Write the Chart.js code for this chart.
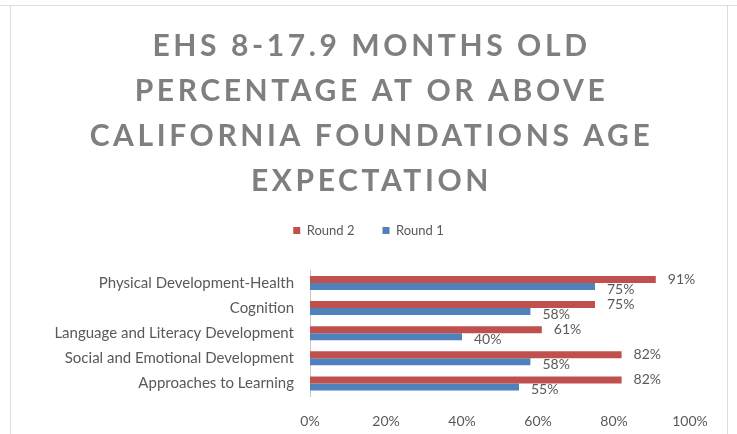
<!DOCTYPE html>
<html>
<head>
<meta charset="utf-8">
<script src="https://cdn.jsdelivr.net/npm/chart.js@4/dist/chart.umd.min.js"></script>
<style>
  html, body { margin: 0; padding: 0; background: #fff; }
  #wrap { width: 737px; height: 434px; }
</style>
</head>
<body>
<div id="wrap"><canvas id="ehs_chart"></canvas></div>
<script>
// data
const categories = [
    'Physical Development-Health',
    'Cognition',
    'Language and Literacy Development',
    'Social and Emotional Development',
    'Approaches to Learning'
];
const round2 = [91, 75, 61, 82, 82];
const round1 = [75, 58, 40, 58, 55];
const xTicks = [0, 20, 40, 60, 80, 100];
const titleLines = [
    'EHS 8-17.9 MONTHS OLD',
    'PERCENTAGE AT OR ABOVE',
    'CALIFORNIA FOUNDATIONS AGE',
    'EXPECTATION'
];

const RED = '#C0504D';
const BLUE = '#4F81BD';
const TEXT = '#595959';

// light frame around the chart like the screenshot
const framePlugin = {
    id: 'frame',
    beforeDraw(chart) {
        const ctx = chart.ctx;
        ctx.save();
        ctx.strokeStyle = '#dedede';
        ctx.lineWidth = 1;
        ctx.beginPath();
        ctx.moveTo(0, 5.5); ctx.lineTo(737, 5.5);
        ctx.moveTo(10.5, 5.5); ctx.lineTo(10.5, 434);
        ctx.moveTo(727.5, 5.5); ctx.lineTo(727.5, 434);
        ctx.stroke();
        ctx.restore();

        // spaced out title letters
        const t = chart.titleBlock;
        if (t && !t._spaced) {
            const draw = t.draw;
            t.draw = function() {
                const c = this.ctx;
                c.save();
                c.letterSpacing = '3.6px';
                c.translate(3, 0);
                draw.call(this);
                c.restore();
            };
            t._spaced = true;
        }
    }
};

// value labels at the bar ends
const valueLabels = {
    id: 'valueLabels',
    afterDatasetsDraw(chart) {
        const ctx = chart.ctx;
        ctx.save();
        ctx.font = '14px Lato';
        ctx.fillStyle = TEXT;
        ctx.textAlign = 'left';
        ctx.textBaseline = 'middle';
        chart.data.datasets.forEach((ds, i) => {
            const meta = chart.getDatasetMeta(i);
            meta.data.forEach((bar, j) => {
                const dy = i === 0 ? 0 : 3;
                ctx.fillText(ds.data[j] + '%', bar.x + 12, bar.y + dy);
            });
        });
        ctx.restore();
    }
};

const ctx = document.getElementById('ehs_chart').getContext('2d');
new Chart(ctx, {
    type: 'bar',
    data: {
        labels: categories,
        datasets: [{
            label: 'Round 2',
            data: round2,
            backgroundColor: RED,
            categoryPercentage: 0.56,
            barPercentage: 1
        }, {
            label: 'Round 1',
            data: round1,
            backgroundColor: BLUE,
            categoryPercentage: 0.56,
            barPercentage: 1
        }]
    },
    options: {
        indexAxis: 'y',
        responsive: true,
        maintainAspectRatio: false,
        animation: false,
        layout: { padding: 0 },
        plugins: {
            title: {
                display: true,
                text: titleLines,
                color: '#7f7f7f',
                font: { family: 'Lato', size: 30, weight: 'bold', lineHeight: 1.5 },
                padding: { top: 23.5, bottom: -7.5 }
            },
            legend: {
                display: true,
                position: 'top',
                labels: {
                    color: TEXT,
                    font: { family: 'Lato', size: 13 },
                    boxWidth: 7,
                    boxHeight: 7,
                    padding: 28
                }
            },
            subtitle: {
                // empty spacer between legend and plot
                display: true,
                text: '',
                weight: 500,
                font: { size: 10, lineHeight: 1 },
                padding: { top: 0, bottom: 13.4 }
            },
            tooltip: { enabled: false }
        },
        scales: {
            x: {
                min: 0,
                max: 100,
                afterBuildTicks(scale) {
                    scale.ticks = xTicks.map(v => ({ value: v }));
                },
                afterFit(scale) { scale.height = 38; },
                grid: { display: false, drawTicks: false },
                border: { display: false },
                ticks: {
                    padding: 17,
                    color: TEXT,
                    font: { family: 'Lato', size: 14 },
                    callback: v => v + '%'
                }
            },
            y: {
                afterFit(scale) { scale.width = 310; },
                grid: { display: false, drawTicks: false },
                border: { display: true, color: '#c8c8c8', width: 1 },
                ticks: {
                    padding: 16,
                    color: TEXT,
                    font: { family: 'Lato', size: 15 }
                }
            },
            // empty right margin so the plot ends at 100% like the original
            rightGap: {
                type: 'linear',
                position: 'right',
                axis: 'y',
                afterFit(scale) { scale.width = 47; },
                grid: { display: false, drawTicks: false },
                border: { display: false },
                ticks: { display: false }
            }
        }
    },
    plugins: [framePlugin, valueLabels]
});
</script>
</body>
</html>
